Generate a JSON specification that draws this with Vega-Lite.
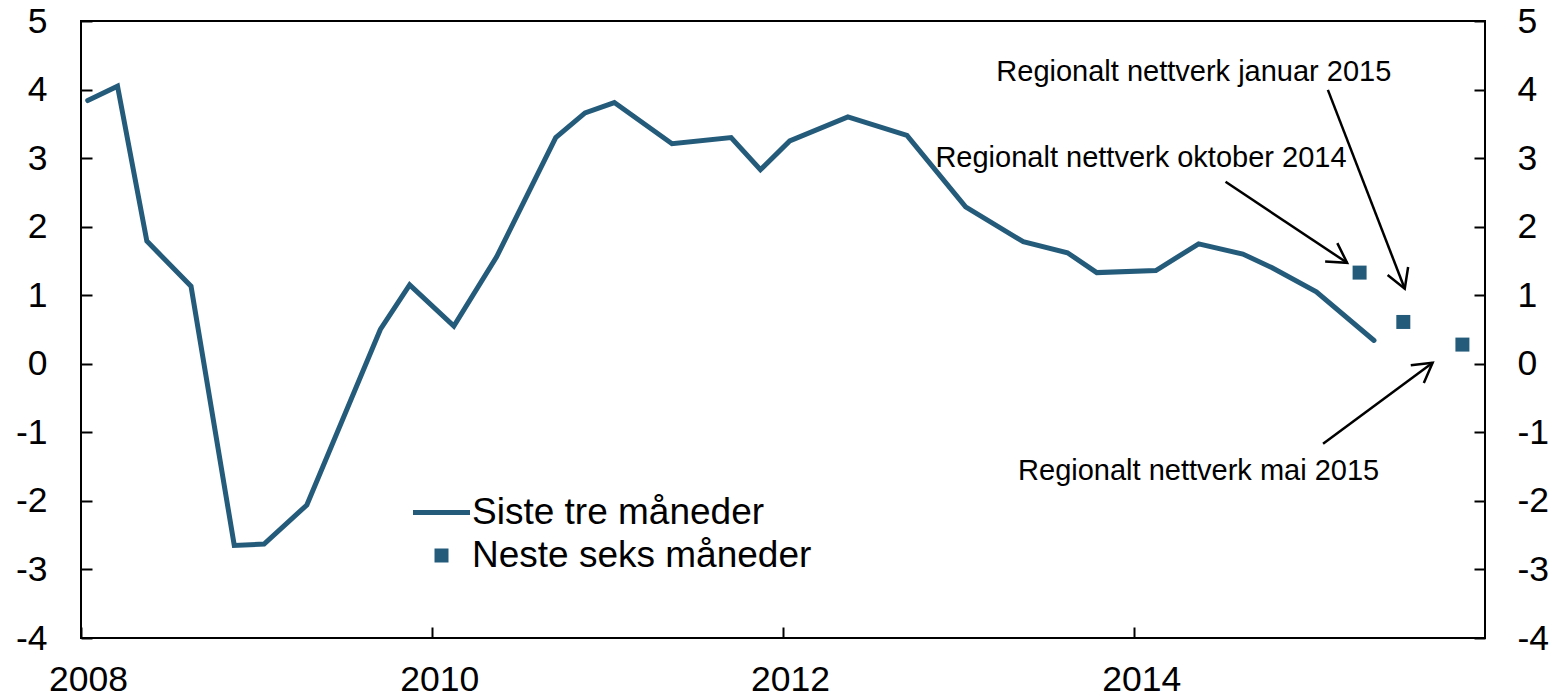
{
  "$schema": "https://vega.github.io/schema/vega-lite/v6.json",
  "width": 1404,
  "height": 617,
  "autosize": {"type": "none"},
  "padding": {"left": 81, "top": 21, "right": 74, "bottom": 61},
  "background": "white",
  "config": {
    "font": "Liberation Sans",
    "view": {"stroke": "black", "strokeWidth": 2},
    "axis": {
      "grid": false,
      "domain": false,
      "labelFont": "Liberation Sans",
      "labelFontSize": 35.5,
      "labelColor": "black",
      "tickColor": "black",
      "tickWidth": 2,
      "tickSize": -11
    }
  },
  "datasets": {
    "line": [
      {"date": "2008-01-15", "value": 3.84, "series": "Siste tre måneder"},
      {"date": "2008-03-17", "value": 4.05, "series": "Siste tre måneder"},
      {"date": "2008-05-17", "value": 1.79, "series": "Siste tre måneder"},
      {"date": "2008-08-17", "value": 1.13, "series": "Siste tre måneder"},
      {"date": "2008-11-15", "value": -2.65, "series": "Siste tre måneder"},
      {"date": "2009-01-16", "value": -2.63, "series": "Siste tre måneder"},
      {"date": "2009-04-15", "value": -2.06, "series": "Siste tre måneder"},
      {"date": "2009-09-15", "value": 0.5, "series": "Siste tre måneder"},
      {"date": "2009-11-15", "value": 1.15, "series": "Siste tre måneder"},
      {"date": "2010-02-15", "value": 0.55, "series": "Siste tre måneder"},
      {"date": "2010-05-15", "value": 1.56, "series": "Siste tre måneder"},
      {"date": "2010-09-15", "value": 3.3, "series": "Siste tre måneder"},
      {"date": "2010-11-15", "value": 3.66, "series": "Siste tre måneder"},
      {"date": "2011-01-15", "value": 3.81, "series": "Siste tre måneder"},
      {"date": "2011-05-15", "value": 3.21, "series": "Siste tre måneder"},
      {"date": "2011-09-15", "value": 3.3, "series": "Siste tre måneder"},
      {"date": "2011-11-15", "value": 2.83, "series": "Siste tre måneder"},
      {"date": "2012-01-15", "value": 3.25, "series": "Siste tre måneder"},
      {"date": "2012-05-15", "value": 3.6, "series": "Siste tre måneder"},
      {"date": "2012-09-15", "value": 3.33, "series": "Siste tre måneder"},
      {"date": "2013-01-15", "value": 2.29, "series": "Siste tre måneder"},
      {"date": "2013-05-15", "value": 1.78, "series": "Siste tre måneder"},
      {"date": "2013-08-15", "value": 1.62, "series": "Siste tre måneder"},
      {"date": "2013-10-15", "value": 1.33, "series": "Siste tre måneder"},
      {"date": "2014-02-15", "value": 1.36, "series": "Siste tre måneder"},
      {"date": "2014-05-15", "value": 1.75, "series": "Siste tre måneder"},
      {"date": "2014-08-15", "value": 1.6, "series": "Siste tre måneder"},
      {"date": "2014-10-15", "value": 1.4, "series": "Siste tre måneder"},
      {"date": "2015-01-15", "value": 1.05, "series": "Siste tre måneder"},
      {"date": "2015-05-15", "value": 0.34, "series": "Siste tre måneder"}
    ],
    "points": [
      {"date": "2015-04-15", "value": 1.33, "series": "Neste seks måneder"},
      {"date": "2015-07-15", "value": 0.61, "series": "Neste seks måneder"},
      {"date": "2015-11-15", "value": 0.28, "series": "Neste seks måneder"}
    ],
    "arrows": [
      {"note": "okt", "date": "2014-07-10", "value": 2.655, "date2": "2015-03-20", "value2": 1.473},
      {"note": "jan", "date": "2015-02-08", "value": 3.996, "date2": "2015-07-18", "value2": 1.094},
      {"note": "mai", "date": "2015-01-29", "value": -1.167, "date2": "2015-09-14", "value2": 0.015}
    ],
    "notes": [
      {"label": "Regionalt nettverk januar 2015", "date": "2014-05-05", "value": 4.26},
      {"label": "Regionalt nettverk oktober 2014", "date": "2014-01-15", "value": 3.0},
      {"label": "Regionalt nettverk mai 2015", "date": "2014-05-15", "value": -1.57}
    ]
  },
  "layer": [
    {
      "mark": {"type": "rule", "color": "black", "strokeWidth": 1.5},
      "encoding": {
        "y": {"datum": 0, "type": "quantitative", "scale": {"domain": [-4, 5], "nice": false, "zero": false}, "axis": null}
      }
    },
    {
      "data": {"name": "line"},
      "mark": {"type": "line", "strokeWidth": 5, "strokeCap": "round"},
      "encoding": {
        "x": {
          "field": "date", "type": "temporal",
          "scale": {"type": "utc", "domain": [{"year": 2008, "month": 1, "date": 1, "utc": true}, {"year": 2016, "month": 1, "date": 1, "utc": true}]},
          "axis": {
            "title": null, "format": "%Y", "labelFlush": false, "labelOffset": 7, "labelPadding": 35,
            "values": [{"year": 2008, "month": 1, "date": 1, "utc": true}, {"year": 2010, "month": 1, "date": 1, "utc": true}, {"year": 2012, "month": 1, "date": 1, "utc": true}, {"year": 2014, "month": 1, "date": 1, "utc": true}]
          }
        },
        "y": {
          "field": "value", "type": "quantitative",
          "scale": {"domain": [-4, 5], "nice": false, "zero": false},
          "axis": {"title": null, "orient": "left", "values": [-4, -3, -2, -1, 0, 1, 2, 3, 4, 5], "labelPadding": 45, "labelExpr": "replace(datum.label, '−', '-')"}
        },
        "color": {
          "field": "series", "type": "nominal",
          "scale": {"domain": ["Siste tre måneder", "Neste seks måneder"], "range": ["#245b7b", "#245b7b"]},
          "legend": {
            "orient": "none", "legendX": 342, "legendY": 473, "title": null,
            "padding": 0, "rowPadding": 5, "symbolSize": 1764, "labelOffset": 12,
            "labelFont": "Liberation Sans", "labelFontSize": 37, "labelColor": "black", "labelLimit": 1000,
            "encode": {
              "symbols": {
                "update": {
                  "shape": {"signal": "datum.value == 'Siste tre måneder' ? 'stroke' : 'square'"},
                  "size": {"signal": "datum.value == 'Siste tre måneder' ? 3249 : 196"},
                  "strokeWidth": {"signal": "datum.value == 'Siste tre måneder' ? 5 : 0"},
                  "stroke": {"value": "#245b7b"},
                  "fill": {"value": "#245b7b"},
                  "opacity": {"value": 1}
                }
              }
            }
          }
        }
      }
    },
    {
      "data": {"name": "points"},
      "mark": {"type": "point", "shape": "square", "filled": true, "size": 196, "opacity": 1},
      "encoding": {
        "x": {"field": "date", "type": "temporal"},
        "y": {
          "field": "value", "type": "quantitative",
          "axis": {"title": null, "orient": "right", "values": [-4, -3, -2, -1, 0, 1, 2, 3, 4, 5], "labelPadding": 43, "labelExpr": "replace(datum.label, '−', '-')"}
        },
        "color": {"field": "series", "type": "nominal"}
      }
    },
    {
      "data": {"name": "arrows"},
      "mark": {"type": "rule", "color": "black", "strokeWidth": 2.5},
      "encoding": {
        "x": {"field": "date", "type": "temporal"},
        "x2": {"field": "date2"},
        "y": {"field": "value", "type": "quantitative", "axis": null},
        "y2": {"field": "value2"}
      }
    },
    {
      "data": {"name": "arrows"},
      "mark": {"type": "point", "shape": "M-0.866,-0.5L0,0L-0.866,0.5", "filled": false, "stroke": "black", "strokeWidth": 2.5, "size": 1936, "opacity": 1},
      "encoding": {
        "x": {"field": "date2", "type": "temporal"},
        "y": {"field": "value2", "type": "quantitative", "axis": null},
        "angle": {
          "condition": [
            {"test": "datum.note == 'okt'", "value": 33.6},
            {"test": "datum.note == 'jan'", "value": 68.8}
          ],
          "value": 323.6
        }
      }
    },
    {
      "data": {"name": "notes"},
      "mark": {"type": "text", "font": "Liberation Sans", "fontSize": 29, "align": "center", "baseline": "middle", "color": "black"},
      "encoding": {
        "x": {"field": "date", "type": "temporal"},
        "y": {"field": "value", "type": "quantitative", "axis": null},
        "text": {"field": "label"}
      }
    }
  ],
  "resolve": {"axis": {"y": "independent"}}
}
